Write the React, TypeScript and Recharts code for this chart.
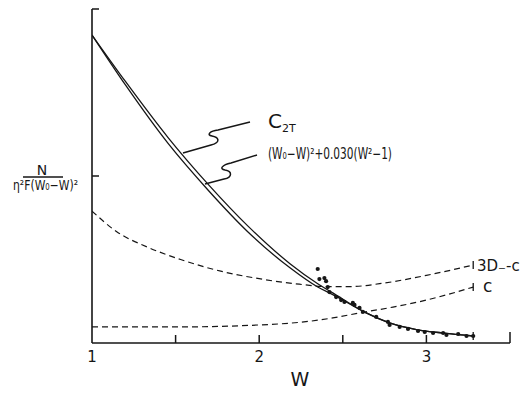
import { ComposedChart, Line, Scatter, XAxis, YAxis } from "recharts"

// W grid shared by the two solid curves
const solidW = [1, 1.2, 1.455, 1.695, 1.933, 2.184, 2.35, 2.44, 2.64, 2.78, 2.94, 3.12, 3.28]
const c2tV = [1.844, 1.566, 1.23, 0.95, 0.7, 0.475, 0.355, 0.3, 0.18, 0.12, 0.08, 0.058, 0.042]
const fitV = [1.844, 1.545, 1.195, 0.915, 0.665, 0.45, 0.335, 0.29, 0.18, 0.12, 0.08, 0.058, 0.042]

// dashed "3D_-c"
const dW = [1, 1.15, 1.33, 1.53, 1.77, 2.0, 2.24, 2.4, 2.55, 2.72, 3.0, 3.28]
const dV = [0.79, 0.665, 0.575, 0.5, 0.43, 0.385, 0.352, 0.338, 0.338, 0.355, 0.405, 0.467]

// dashed "c"
const cW = [1, 1.5, 2.0, 2.3, 2.44, 2.6, 2.8, 3.0, 3.28]
const cV = [0.096, 0.096, 0.108, 0.13, 0.15, 0.18, 0.215, 0.257, 0.335]

// measured points
const ptW = [2.35, 2.36, 2.39, 2.4, 2.41, 2.42, 2.46, 2.49, 2.51, 2.56, 2.57, 2.6, 2.62, 2.7, 2.77, 2.78, 2.84, 2.89, 2.95, 2.99, 3.04, 3.1, 3.12, 3.19, 3.24, 3.28]
const ptV = [0.443, 0.383, 0.389, 0.37, 0.335, 0.305, 0.275, 0.257, 0.246, 0.24, 0.228, 0.21, 0.186, 0.156, 0.126, 0.108, 0.096, 0.084, 0.072, 0.066, 0.06, 0.06, 0.048, 0.054, 0.042, 0.042]

const xTicks = [1, 1.5, 2, 2.5, 3, 3.5]
const xLabels = ["1", "", "2", "", "3", ""]
const yTicks = [1, 2]

const ink = "#161616"
const font = "'DejaVu Sans', sans-serif"

const zip = (ws: number[], vs: number[]) => ws.map((w, i) => ({ w, v: vs[i] }))
const c2tData = zip(solidW, c2tV)
const fitData = zip(solidW, fitV)
const dData = zip(dW, dV)
const cData = zip(cW, cV)
const ptData = zip(ptW, ptV)

const XTick = (p: any) => {
  const v = p.payload.value
  const lbl = xLabels[xTicks.indexOf(v)]
  return (
    <g>
      {v > 1 && <line x1={p.x} x2={p.x} y1={p.y} y2={p.y - (v === 3.5 ? 11 : 8)} stroke={ink} strokeWidth={1.5} />}
      {lbl && (
        <text x={p.x} y={p.y + 19} textAnchor="middle" fontSize={15} fontFamily={font} fill={ink}>
          {lbl}
        </text>
      )}
    </g>
  )
}

const YTick = (p: any) => (
  <line x1={p.x} x2={p.x + 7} y1={p.y} y2={p.y} stroke={ink} strokeWidth={1.5} />
)

// small vertical bar where a curve stops
const endBar = (n: number) => (p: any) =>
  p.index === n - 1 ? (
    <line key={p.index} x1={p.cx} x2={p.cx} y1={p.cy - 4} y2={p.cy + 4} stroke={ink} strokeWidth={1.3} />
  ) : (
    <g key={p.index} />
  )

export default function App() {
  return (
    <div style={{ position: "absolute", left: 0, top: 0, width: 521, height: 393, background: "#fff" }}>
      <ComposedChart width={521} height={393} margin={{ top: 9, right: 11, bottom: 20, left: 72 }}>
        <XAxis
          type="number"
          dataKey="w"
          domain={[1, 3.5]}
          ticks={xTicks}
          interval={0}
          height={30}
          tickSize={0}
          tickMargin={0}
          tickLine={false}
          tick={XTick}
          axisLine={{ stroke: ink, strokeWidth: 1.6 }}
          allowDataOverflow
        />
        <YAxis
          type="number"
          dataKey="v"
          domain={[0, 2]}
          ticks={yTicks}
          interval={0}
          width={20}
          tickSize={0}
          tickMargin={0}
          tickLine={false}
          tick={YTick}
          axisLine={{ stroke: ink, strokeWidth: 1.6 }}
          allowDataOverflow
        />
        <Line data={c2tData} dataKey="v" type="monotone" stroke={ink} strokeWidth={1.3} dot={false} isAnimationActive={false} />
        <Line data={fitData} dataKey="v" type="monotone" stroke={ink} strokeWidth={1.3} dot={endBar(fitData.length)} isAnimationActive={false} />
        <Line data={dData} dataKey="v" type="monotone" stroke={ink} strokeWidth={1.2} strokeDasharray="6 4" dot={endBar(dData.length)} isAnimationActive={false} />
        <Line data={cData} dataKey="v" type="monotone" stroke={ink} strokeWidth={1.2} strokeDasharray="6 4" dot={endBar(cData.length)} isAnimationActive={false} />
        <Scatter
          data={ptData}
          fill={ink}
          shape={(p: any) => <circle cx={p.cx} cy={p.cy} r={2.1} fill={ink} />}
          isAnimationActive={false}
        />
      </ComposedChart>

      <svg width={521} height={393} style={{ position: "absolute", left: 0, top: 0, pointerEvents: "none" }}>
        <g fontFamily={font} fill={ink}>
          <text x={42} y={175} fontSize={14} textAnchor="middle">N</text>
          <text x={13} y={190} fontSize={14} textLength={65} lengthAdjust="spacingAndGlyphs">η²F(W₀−W)²</text>
          <text x={268} y={128} fontSize={20}>
            C<tspan fontSize={11} dy={4}>2T</tspan>
          </text>
          <text x={268} y={159} fontSize={15} textLength={124} lengthAdjust="spacingAndGlyphs">(W₀−W)²+0.030(W²−1)</text>
          <text x={477} y={271} fontSize={15}>3D₋-c</text>
          <text x={483} y={292} fontSize={17}>c</text>
          <text x={300} y={386} fontSize={19} textAnchor="middle">W</text>
        </g>
        <line x1={23} x2={63} y1={177} y2={177} stroke={ink} strokeWidth={1.3} />
        <path d="M183,153 L211,145 C222,142 218,137 212,136 C206,135 210,131 218,130 L250,122" fill="none" stroke={ink} strokeWidth={1.5} />
        <path d="M205,184 L224,179 C233,177 232,171 225,170 C219,169 222,165 231,163 L257,155" fill="none" stroke={ink} strokeWidth={1.5} />
      </svg>
    </div>
  )
}
